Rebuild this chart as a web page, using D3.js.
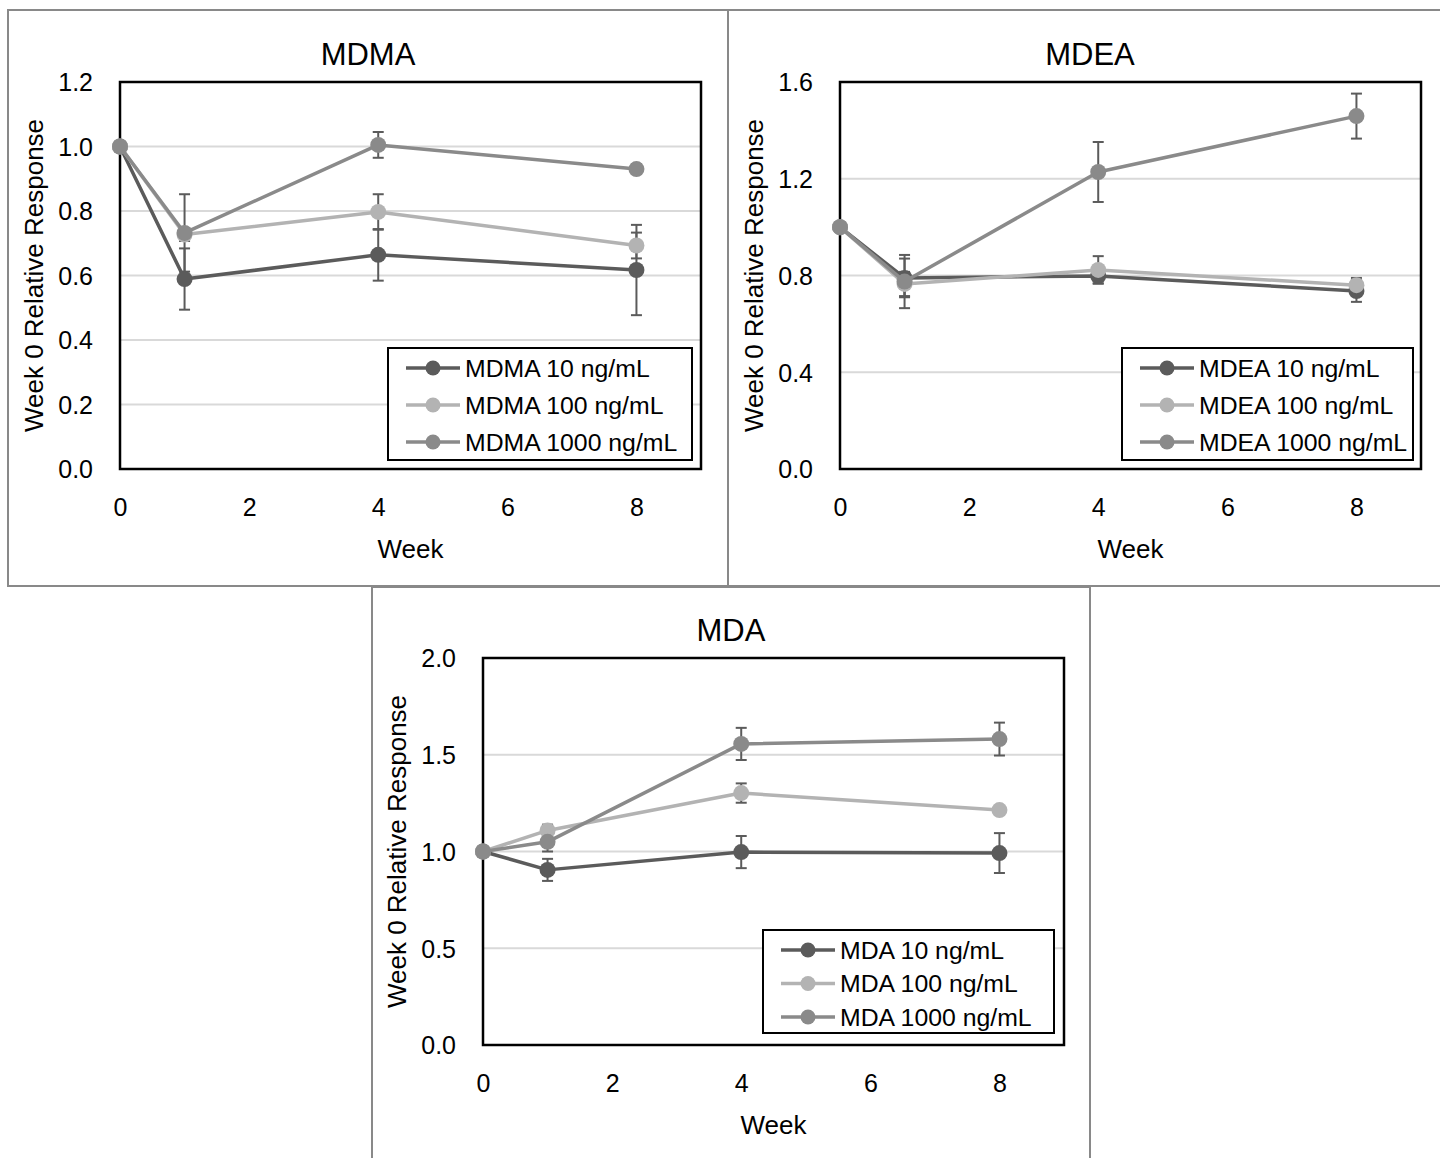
<!DOCTYPE html>
<html><head><meta charset="utf-8">
<script src="https://cdn.jsdelivr.net/npm/d3@7"></script>
<style>
html,body{margin:0;padding:0;background:#fff;}
text{font-family:"Liberation Sans",Arial,sans-serif;fill:#000;}
</style></head>
<body>
<svg id="c" width="1440" height="1158"></svg>
<script>
// ---- data ----
const weeks = [0, 1, 4, 8];
const seriesNames = ["10 ng/mL", "100 ng/mL", "1000 ng/mL"];
const xTicks = [0, 2, 4, 6, 8];

const mdma10 = [1.0, 0.589, 0.664, 0.617];
const mdma10Err = [0, 0.095, 0.08, 0.14];
const mdma100 = [1.0, 0.727, 0.797, 0.693];
const mdma100Err = [0, 0.02, 0.055, 0.04];
const mdma1000 = [1.0, 0.732, 1.005, 0.930];
const mdma1000Err = [0, 0.12, 0.04, 0.015];
const mdmaYTicks = [0.0, 0.2, 0.4, 0.6, 0.8, 1.0, 1.2];

const mdea10 = [1.0, 0.79, 0.798, 0.736];
const mdea10Err = [0, 0.08, 0.03, 0.045];
const mdea100 = [1.0, 0.765, 0.823, 0.76];
const mdea100Err = [0, 0.05, 0.057, 0.03];
const mdea1000 = [1.0, 0.775, 1.228, 1.459];
const mdea1000Err = [0, 0.11, 0.124, 0.093];
const mdeaYTicks = [0.0, 0.4, 0.8, 1.2, 1.6];

const mda10 = [1.0, 0.905, 0.997, 0.992];
const mda10Err = [0, 0.057, 0.083, 0.103];
const mda100 = [1.0, 1.109, 1.302, 1.214];
const mda100Err = [0, 0.03, 0.05, 0.01];
const mda1000 = [1.0, 1.05, 1.556, 1.581];
const mda1000Err = [0, 0.05, 0.083, 0.085];
const mdaYTicks = [0.0, 0.5, 1.0, 1.5, 2.0];

// ---- style ----
const colors = ["#5b5b5b", "#b3b3b3", "#8a8a8a"];
const errColor = "#5b5b5b";

const panels = [
  {name: "MDMA", vals: [mdma10, mdma100, mdma1000], errs: [mdma10Err, mdma100Err, mdma1000Err], yTicks: mdmaYTicks,
   box: [8, 10, 720, 576], plot: [120, 82], leg: {x: 388, y: 348, w: 304, h: 112, row: 37, top: 20}},
  {name: "MDEA", vals: [mdea10, mdea100, mdea1000], errs: [mdea10Err, mdea100Err, mdea1000Err], yTicks: mdeaYTicks,
   box: [728, 10, 724, 576], plot: [840, 82], leg: {x: 1122, y: 348, w: 291, h: 112, row: 37, top: 20}},
  {name: "MDA", vals: [mda10, mda100, mda1000], errs: [mda10Err, mda100Err, mda1000Err], yTicks: mdaYTicks,
   box: [372, 587, 718, 600], plot: [483, 658], leg: {x: 763, y: 930, w: 291, h: 103, row: 33.5, top: 20}}
];

const svg = d3.select("#c");
const PW = 581, PH = 387;

panels.forEach(p => {
  const g = svg.append("g");
  // outer panel border
  g.append("rect").attr("x", p.box[0]).attr("y", p.box[1]).attr("width", p.box[2]).attr("height", p.box[3])
    .attr("fill", "none").attr("stroke", "#898989").attr("stroke-width", 2);

  const x0 = p.plot[0], y0 = p.plot[1];
  const yMax = p.yTicks[p.yTicks.length - 1];
  const x = d3.scaleLinear().domain([0, 9]).range([x0, x0 + PW]);
  const y = d3.scaleLinear().domain([0, yMax]).range([y0 + PH, y0]);

  // gridlines
  g.append("g").selectAll("line").data(p.yTicks.filter(t => t > 0 && t < yMax)).join("line")
    .attr("x1", x0).attr("x2", x0 + PW).attr("y1", d => y(d)).attr("y2", d => y(d))
    .attr("stroke", "#d9d9d9").attr("stroke-width", 2);

  // axes (labels only)
  const ya = d3.axisLeft(y).tickValues(p.yTicks).tickFormat(d3.format(".1f")).tickSize(0).tickPadding(27);
  const yg = g.append("g").attr("transform", `translate(${x0},0)`).call(ya);
  yg.select(".domain").remove();
  yg.selectAll("text").attr("font-size", 25).attr("font-family", "Liberation Sans, Arial, sans-serif").attr("dy", "0.35em");

  const xa = d3.axisBottom(x).tickValues(xTicks).tickFormat(d3.format("d")).tickSize(0).tickPadding(29);
  const xg = g.append("g").attr("transform", `translate(0,${y0 + PH})`).call(xa);
  xg.select(".domain").remove();
  xg.selectAll("text").attr("font-size", 25).attr("font-family", "Liberation Sans, Arial, sans-serif");

  // plot border
  g.append("rect").attr("x", x0).attr("y", y0).attr("width", PW).attr("height", PH)
    .attr("fill", "none").attr("stroke", "#000").attr("stroke-width", 2.5);

  // titles
  g.append("text").attr("x", p.box[0] + p.box[2] / 2).attr("y", y0 - 17).attr("text-anchor", "middle")
    .attr("font-size", 31).text(p.name);
  g.append("text").attr("x", x0 + PW / 2).attr("y", y0 + PH + 89).attr("text-anchor", "middle")
    .attr("font-size", 26).text("Week");
  g.append("text").attr("transform", `translate(${x0 - 77},${y0 + PH / 2}) rotate(-90)`).attr("text-anchor", "middle")
    .attr("font-size", 26).text("Week 0 Relative Response");

  // error bars
  p.vals.forEach((vals, si) => {
    const eg = g.append("g");
    weeks.forEach((w, i) => {
      const e = p.errs[si][i];
      if (!e) return;
      const cx = x(w);
      eg.append("line").attr("x1", cx).attr("x2", cx).attr("y1", y(vals[i] - e)).attr("y2", y(vals[i] + e))
        .attr("stroke", errColor).attr("stroke-width", 2);
      [vals[i] - e, vals[i] + e].forEach(v => {
        eg.append("line").attr("x1", cx - 5.5).attr("x2", cx + 5.5).attr("y1", y(v)).attr("y2", y(v))
          .attr("stroke", errColor).attr("stroke-width", 2);
      });
    });
  });

  // series lines + markers
  const line = d3.line().x((d, i) => x(weeks[i])).y(d => y(d));
  p.vals.forEach((vals, si) => {
    g.append("path").datum(vals).attr("d", line).attr("fill", "none")
      .attr("stroke", colors[si]).attr("stroke-width", 3.5).attr("stroke-linejoin", "round");
    g.append("g").selectAll("circle").data(vals).join("circle")
      .attr("cx", (d, i) => x(weeks[i])).attr("cy", d => y(d)).attr("r", 8).attr("fill", colors[si]);
  });

  // legend
  const L = p.leg;
  const lg = g.append("g");
  lg.append("rect").attr("x", L.x).attr("y", L.y).attr("width", L.w).attr("height", L.h)
    .attr("fill", "#fff").attr("stroke", "#000").attr("stroke-width", 2);
  seriesNames.forEach((s, si) => {
    const ry = L.y + L.top + si * L.row;
    lg.append("line").attr("x1", L.x + 18).attr("x2", L.x + 72).attr("y1", ry).attr("y2", ry)
      .attr("stroke", colors[si]).attr("stroke-width", 3.5);
    lg.append("circle").attr("cx", L.x + 45).attr("cy", ry).attr("r", 7.5).attr("fill", colors[si]);
    lg.append("text").attr("x", L.x + 77).attr("y", ry).attr("dy", "0.35em").attr("font-size", 24.8)
      .text(p.name + " " + s);
  });
});
</script>
</body></html>
